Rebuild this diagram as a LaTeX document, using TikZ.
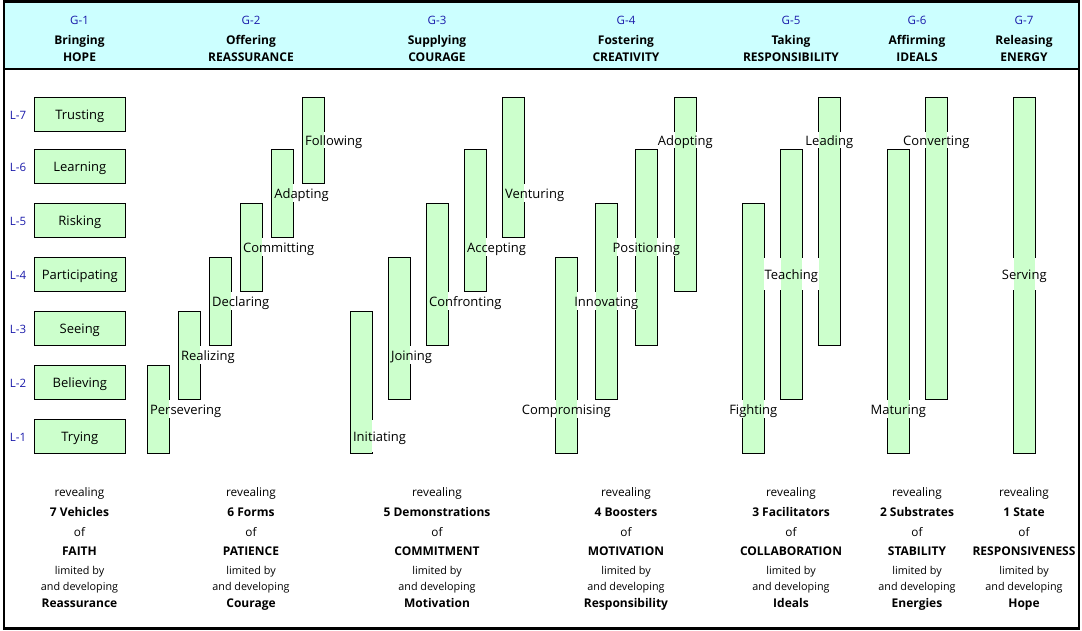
\documentclass[tikz,border=0pt]{standalone}
\usepackage{fontspec}
\setmainfont{Open Sans}
\pgfdeclarelayer{back}
\pgfdeclarelayer{barline}
\pgfdeclarelayer{lblbg}
\pgfdeclarelayer{barfill}
\pgfsetlayers{back,barline,lblbg,barfill,main}
\definecolor{hdr}{HTML}{CCFFFF}
\definecolor{grn}{HTML}{CCFFCC}
\definecolor{gblue}{HTML}{1A1AAA}
\newcommand\mkbar[3]{%
  \begin{pgfonlayer}{barline}\draw[barbox] (#1,#2) rectangle (#1+22,#3);\end{pgfonlayer}%
  \begin{pgfonlayer}{barfill}\fill[grn] (#1+0.5,#2+0.5) rectangle (#1+21.5,#3-0.5);\end{pgfonlayer}}
\newcommand\mklbl[6]{%
  \begin{pgfonlayer}{lblbg}\node[lblbg,anchor=#2,minimum height=#5pt] at (#3,#4) {\phantom{#6}};\end{pgfonlayer}%
  \node[lbltxt,anchor=#2,minimum height=#5pt] (#1) at (#3,#4) {#6};}
\newcommand\mkfoot[5]{%
  \node[freg] (#1a) at (#2,491) {revealing};
  \node[fbold] (#1b) at (#2,511) {#3};
  \node[freg] (#1c) at (#2,531) {of};
  \node[fbold] (#1d) at (#2,550) {#4};
  \node[fsmall] (#1e) at (#2,569) {limited by};
  \node[fsmall] (#1f) at (#2,585) {and developing};
  \node[fbold] (#1g) at (#2,602) {#5};}
\newcommand\mkhead[4]{%
  \node[ghead] (#1g) at (#2,19.5) {#1};
  \node[htitle] (#1t) at (#2,40) {#3};
  \node[htitle] (#1c) at (#2,56.5) {#4};}
\begin{document}
\begin{tikzpicture}[x=1pt,y=-1pt,
  every node/.style={text height=11pt,text depth=1pt},
  lvlbox/.style={draw=black,line width=0.9pt,fill=grn,minimum width=91pt,minimum height=34pt,inner sep=0pt,font=\fontsize{13}{14}\selectfont},
  llab/.style={text=gblue,font=\fontsize{11.5}{13}\selectfont,inner sep=0pt},
  ghead/.style={text=gblue,font=\fontsize{11.5}{13}\selectfont,inner sep=0pt},
  htitle/.style={font=\bfseries\fontsize{12}{14}\selectfont,inner sep=0pt},
  barbox/.style={draw=black,line width=0.9pt,fill=grn},
  lblbg/.style={fill=white,inner xsep=2pt,inner ysep=0pt,font=\fontsize{13}{14}\selectfont},
  lbltxt/.style={inner xsep=2pt,inner ysep=0pt,font=\fontsize{13}{14}\selectfont},
  freg/.style={inner sep=0pt,font=\fontsize{11.8}{13}\selectfont},
  fsmall/.style={inner sep=0pt,font=\fontsize{10.8}{12}\selectfont},
  fbold/.style={inner sep=0pt,font=\bfseries\fontsize{12}{14}\selectfont}]
\useasboundingbox (0,0) rectangle (1082,631);
% frame and header
\begin{pgfonlayer}{back}
\fill[hdr] (4,1.3) rectangle (1079,69);
\end{pgfonlayer}
\draw[line width=1.8pt] (4,69) -- (1079,69);
\draw[line width=2.5pt] (4,1.3) rectangle (1079,628.3);
% headers
\mkhead{G-1}{79.5}{Bringing}{HOPE}
\mkhead{G-2}{251}{Offering}{REASSURANCE}
\mkhead{G-3}{437}{Supplying}{COURAGE}
\mkhead{G-4}{626}{Fostering}{CREATIVITY}
\mkhead{G-5}{791}{Taking}{RESPONSIBILITY}
\mkhead{G-6}{917}{Affirming}{IDEALS}
\mkhead{G-7}{1024}{Releasing}{ENERGY}
% levels
\foreach \n/\t/\y in {7/Trusting/114.3,6/Learning/166.3,5/Risking/220.3,4/Participating/274.3,3/Seeing/328.3,2/Believing/382.3,1/Trying/436.3}{
  \node[llab] (L\n) at (18,\y) {L-\n};
  \node[lvlbox] (V\n) at (79.8,\y) {\t};
}
% bars G-2
\mkbar{147.3}{365.3}{453.3}
\mkbar{178.3}{311.3}{399.3}
\mkbar{209.3}{257.3}{345.3}
\mkbar{240.3}{203.3}{291.3}
\mkbar{271.5}{149.3}{237.3}
\mkbar{302.3}{97.3}{183.3}
% bars G-3
\mkbar{350.3}{311.3}{453.3}
\mkbar{388.3}{257.3}{399.3}
\mkbar{426.3}{203.3}{345.3}
\mkbar{464.3}{149.3}{291.3}
\mkbar{502.3}{97.3}{237.3}
% bars G-4
\mkbar{555.3}{257.3}{453.3}
\mkbar{595.3}{203.3}{399.3}
\mkbar{635.3}{149.3}{345.3}
\mkbar{674.3}{97.3}{291.3}
% bars G-5
\mkbar{742.3}{203.3}{453.3}
\mkbar{780.3}{149.3}{399.3}
\mkbar{818.3}{97.3}{345.3}
% bars G-6
\mkbar{887.3}{149.3}{453.3}
\mkbar{925.3}{97.3}{399.3}
% bar G-7
\mkbar{1013.3}{97.3}{453.3}
% labels G-2
\mklbl{persevering}{west}{147.9}{409.3}{18}{Persevering}
\mklbl{realizing}{west}{178.9}{355.3}{18}{Realizing}
\mklbl{declaring}{west}{209.9}{301.3}{18}{Declaring}
\mklbl{committing}{west}{240.9}{247.3}{18}{Committing}
\mklbl{adapting}{west}{272.1}{193.3}{18}{Adapting}
\mklbl{following}{west}{302.9}{140.3}{16}{Following}
% labels G-3
\mklbl{initiating}{west}{350.9}{436.3}{32}{Initiating}
\mklbl{joining}{west}{388.9}{355.3}{18}{Joining}
\mklbl{confronting}{west}{426.9}{301.3}{18}{Confronting}
\mklbl{accepting}{west}{464.9}{247.3}{18}{Accepting}
\mklbl{venturing}{west}{502.9}{193.3}{18}{Venturing}
% labels G-4
\mklbl{compromising}{center}{566.3}{409.3}{18}{Compromising}
\mklbl{innovating}{center}{606.3}{301.3}{18}{Innovating}
\mklbl{positioning}{center}{646.3}{247.3}{18}{Positioning}
\mklbl{adopting}{center}{685.3}{140.3}{16}{Adopting}
% labels G-5
\mklbl{fighting}{center}{753.3}{409.3}{18}{Fighting}
\mklbl{teaching}{center}{791.3}{274.3}{32}{Teaching}
\mklbl{leading}{center}{829.3}{140.3}{16}{Leading}
% labels G-6
\mklbl{maturing}{center}{898.3}{409.3}{18}{Maturing}
\mklbl{converting}{center}{936.3}{140.3}{16}{Converting}
% label G-7
\mklbl{serving}{center}{1024.3}{274.3}{32}{Serving}
% footers
\mkfoot{F1}{79.5}{7 Vehicles}{FAITH}{Reassurance}
\mkfoot{F2}{251}{6 Forms}{PATIENCE}{Courage}
\mkfoot{F3}{437}{5 Demonstrations}{COMMITMENT}{Motivation}
\mkfoot{F4}{626}{4 Boosters}{MOTIVATION}{Responsibility}
\mkfoot{F5}{791}{3 Facilitators}{COLLABORATION}{Ideals}
\mkfoot{F6}{917}{2 Substrates}{STABILITY}{Energies}
\mkfoot{F7}{1024}{1 State}{RESPONSIVENESS}{Hope}
\end{tikzpicture}
\end{document}
